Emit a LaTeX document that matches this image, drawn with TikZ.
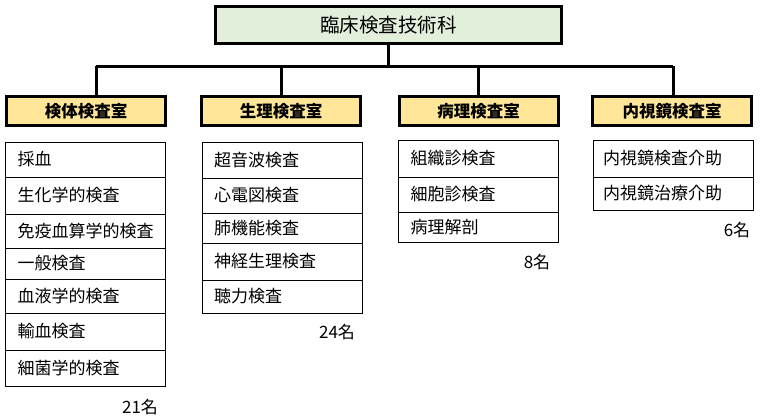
\documentclass[tikz,border=0pt]{standalone}
\usepackage{fontspec}
\setmainfont{Noto Sans CJK JP}
\definecolor{kagreen}{RGB}{226,239,218}
\definecolor{shitsuyellow}{RGB}{255,230,153}
\begin{document}
\begin{tikzpicture}[x=1pt,y=-1pt,
  kabox/.style={draw,line width=3pt,fill=kagreen,minimum width=346pt,minimum height=37pt,inner sep=0pt,font=\fontsize{19.5}{21}\selectfont},
  shitsu/.style={draw,line width=3pt,fill=shitsuyellow,minimum width=159pt,minimum height=29pt,inner sep=0pt,font=\bfseries\fontsize{16.5}{18}\selectfont},
  item/.style={draw,line width=.8pt,inner xsep=12pt,inner ysep=0pt,text width=136pt,align=left,font=\fontsize{17}{19}\selectfont},
  conn/.style={line width=3pt},
  ninzu/.style={font=\fontsize{17}{19}\selectfont}]
  \useasboundingbox (0,0) rectangle (760,418);
  \node[kabox] (ka) at (388.5,25) {臨床検査技術科};
  \node[shitsu] (kentai) at (86,111) {検体検査室};
  \node[shitsu] (seiri) at (281,111) {生理検査室};
  \node[shitsu] (byori) at (478.5,111) {病理検査室};
  \node[shitsu] (naishi) at (672,111) {内視鏡検査室};
  \coordinate (busL) at (96,66); \coordinate (busR) at (673,66);
  \draw[conn] (ka.south) -- (ka.south |- busL);
  \draw[conn] (busL) -- (busR);
  \draw[conn] (busL) -- (busL |- kentai.north);
  \draw[conn] (seiri.north |- busL) -- (seiri.north);
  \draw[conn] (byori.north |- busL) -- (byori.north);
  \draw[conn] (busR) -- (busR |- naishi.north);
  % lists
  \foreach \t/\a/\b [count=\i] in {採血/142/177,生化学的検査/177/214,免疫血算学的検査/214/248,
      一般検査/248/279,血液学的検査/279/313,輸血検査/313/350,細菌学的検査/350/386}
    \node[item,minimum height={(\b-\a)*1pt}] (kt\i) at (85.5,{(\a+\b)/2}) {\t};
  \foreach \t/\a/\b [count=\i] in {超音波検査/142/178,心電図検査/178/213,肺機能検査/213/243,
      神経生理検査/243/280,聴力検査/280/313}
    \node[item,minimum height={(\b-\a)*1pt}] (sr\i) at (282,{(\a+\b)/2}) {\t};
  \foreach \t/\a/\b [count=\i] in {組織診検査/140/177,細胞診検査/177/212,病理解剖/212/242}
    \node[item,minimum height={(\b-\a)*1pt}] (br\i) at (478.5,{(\a+\b)/2}) {\t};
  \foreach \t/\a/\b [count=\i] in {内視鏡検査介助/140/177,内視鏡治療介助/177/210}
    \node[item,inner xsep=10pt,text width=140pt,minimum height={(\b-\a)*1pt}] (ns\i) at (673,{(\a+\b)/2}) {\t};
  % staff
  \node[ninzu] (ktn) at (140,407) {21名};
  \node[ninzu] (srn) at (337,332) {24名};
  \node[ninzu] (brn) at (537,262) {8名};
  \node[ninzu] (nsn) at (737,230) {6名};
\end{tikzpicture}
\end{document}
